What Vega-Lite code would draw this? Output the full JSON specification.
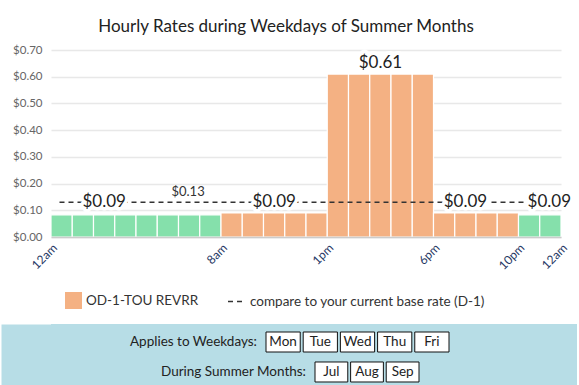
{
  "$schema": "https://vega.github.io/schema/vega-lite/v6.json",
  "padding": {"left": 1, "top": 18, "right": 0, "bottom": 0},
  "spacing": 1,
  "columns": 1,
  "align": "none",
  "bounds": "full",
  "background": "white",
  "resolve": {
    "scale": {"color": "independent", "strokeDash": "independent"},
    "legend": {"color": "independent", "strokeDash": "independent"}
  },
  "config": {
    "font": "Lato",
    "view": {"stroke": null},
    "legend": {
      "orient": "bottom",
      "direction": "horizontal",
      "labelFontSize": 13.5,
      "labelColor": "#333",
      "labelFont": "Lato",
      "labelLimit": 0,
      "offset": 6,
      "padding": 14,
      "layout": {"bottom": {"anchor": "start", "direction": "horizontal", "margin": 0}}
    }
  },
  "datasets": {
    "hours": [
      {"hour": 0, "hour_end": 1, "rate": 0.083, "plan": "Off-peak"},
      {"hour": 1, "hour_end": 2, "rate": 0.083, "plan": "Off-peak"},
      {"hour": 2, "hour_end": 3, "rate": 0.083, "plan": "Off-peak"},
      {"hour": 3, "hour_end": 4, "rate": 0.083, "plan": "Off-peak"},
      {"hour": 4, "hour_end": 5, "rate": 0.083, "plan": "Off-peak"},
      {"hour": 5, "hour_end": 6, "rate": 0.083, "plan": "Off-peak"},
      {"hour": 6, "hour_end": 7, "rate": 0.083, "plan": "Off-peak"},
      {"hour": 7, "hour_end": 8, "rate": 0.083, "plan": "Off-peak"},
      {"hour": 8, "hour_end": 9, "rate": 0.09, "plan": "OD-1-TOU REVRR"},
      {"hour": 9, "hour_end": 10, "rate": 0.09, "plan": "OD-1-TOU REVRR"},
      {"hour": 10, "hour_end": 11, "rate": 0.09, "plan": "OD-1-TOU REVRR"},
      {"hour": 11, "hour_end": 12, "rate": 0.09, "plan": "OD-1-TOU REVRR"},
      {"hour": 12, "hour_end": 13, "rate": 0.09, "plan": "OD-1-TOU REVRR"},
      {"hour": 13, "hour_end": 14, "rate": 0.61, "plan": "OD-1-TOU REVRR"},
      {"hour": 14, "hour_end": 15, "rate": 0.61, "plan": "OD-1-TOU REVRR"},
      {"hour": 15, "hour_end": 16, "rate": 0.61, "plan": "OD-1-TOU REVRR"},
      {"hour": 16, "hour_end": 17, "rate": 0.61, "plan": "OD-1-TOU REVRR"},
      {"hour": 17, "hour_end": 18, "rate": 0.61, "plan": "OD-1-TOU REVRR"},
      {"hour": 18, "hour_end": 19, "rate": 0.09, "plan": "OD-1-TOU REVRR"},
      {"hour": 19, "hour_end": 20, "rate": 0.09, "plan": "OD-1-TOU REVRR"},
      {"hour": 20, "hour_end": 21, "rate": 0.09, "plan": "OD-1-TOU REVRR"},
      {"hour": 21, "hour_end": 22, "rate": 0.09, "plan": "OD-1-TOU REVRR"},
      {"hour": 22, "hour_end": 23, "rate": 0.083, "plan": "Off-peak"},
      {"hour": 23, "hour_end": 24, "rate": 0.083, "plan": "Off-peak"}
    ],
    "base": [
      {"hour": 0.4, "hour_end": 23.6, "rate": 0.13, "series": "compare to your current base rate (D-1)"}
    ],
    "bigLabels": [
      {"hour": 2.5, "rate": 0.13, "label": "$0.09"},
      {"hour": 10.5, "rate": 0.13, "label": "$0.09"},
      {"hour": 19.5, "rate": 0.13, "label": "$0.09"},
      {"hour": 23.45, "rate": 0.13, "label": "$0.09"}
    ],
    "peakLabel": [
      {"hour": 15.5, "rate": 0.61, "label": "$0.61"}
    ],
    "baseLabel": [
      {"hour": 6.45, "rate": 0.13, "label": "$0.13"}
    ],
    "weekdays": [
      {"row": "Applies to Weekdays:", "item": "Mon"},
      {"row": "Applies to Weekdays:", "item": "Tue"},
      {"row": "Applies to Weekdays:", "item": "Wed"},
      {"row": "Applies to Weekdays:", "item": "Thu"},
      {"row": "Applies to Weekdays:", "item": "Fri"}
    ],
    "months": [
      {"row": "During Summer Months:", "item": "Jul"},
      {"row": "During Summer Months:", "item": "Aug"},
      {"row": "During Summer Months:", "item": "Sep"}
    ]
  },
  "concat": [
    {
      "width": 510,
      "height": 187,
      "title": {
        "text": "Hourly Rates during Weekdays of Summer Months",
        "fontSize": 17,
        "font": "Lato",
        "fontWeight": "normal",
        "color": "#222",
        "anchor": "middle",
        "frame": "bounds",
        "offset": 8
      },
      "encoding": {
        "x": {
          "field": "hour",
          "type": "quantitative",
          "scale": {"domain": [0, 24], "nice": false, "zero": false},
          "axis": {
            "values": [0, 8, 13, 18, 22, 24],
            "labelExpr": "datum.value == 0 || datum.value == 24 ? '12am' : datum.value == 8 ? '8am' : datum.value == 13 ? '1pm' : datum.value == 18 ? '6pm' : '10pm'",
            "labelAngle": -45,
            "labelFontSize": 12,
            "labelColor": "#1f3864",
            "labelPadding": 5,
            "labelOverlap": false,
            "ticks": false,
            "grid": false,
            "domain": true,
            "domainColor": "#cccccc",
            "domainWidth": 1.5,
            "title": null,
            "zindex": 1
          }
        },
        "y": {
          "field": "rate",
          "type": "quantitative",
          "scale": {"domain": [0, 0.7], "nice": false},
          "axis": {
            "values": [0, 0.1, 0.2, 0.3, 0.4, 0.5, 0.6, 0.7],
            "format": "$.2f",
            "labelFontSize": 11.5,
            "labelColor": "#666",
            "labelPadding": 9,
            "labelOverlap": false,
            "ticks": false,
            "domain": false,
            "grid": true,
            "gridColor": "#e8e8e8",
            "gridWidth": 1.5,
            "minExtent": 50,
            "title": null
          }
        }
      },
      "layer": [
        {
          "data": {"name": "hours"},
          "mark": {"type": "rect", "stroke": "white", "strokeWidth": 1.2},
          "encoding": {
            "x2": {"field": "hour_end"},
            "y2": {"datum": 0},
            "color": {
              "field": "plan",
              "type": "nominal",
              "scale": {"domain": ["OD-1-TOU REVRR", "Off-peak"], "range": ["#f4b183", "#85e0ab"]},
              "legend": {"values": ["OD-1-TOU REVRR"], "title": null, "symbolType": "square", "symbolSize": 289, "symbolStrokeWidth": 0}
            }
          }
        },
        {
          "data": {"name": "base"},
          "mark": {"type": "rule", "color": "#333", "strokeWidth": 1.5},
          "encoding": {
            "x2": {"field": "hour_end"},
            "strokeDash": {
              "field": "series",
              "type": "nominal",
              "scale": {"domain": ["compare to your current base rate (D-1)"], "range": [[5, 4]]},
              "legend": {"title": null, "symbolSize": 289, "symbolStrokeColor": "#333", "symbolStrokeWidth": 1.5}
            }
          }
        },
        {
          "data": {"name": "bigLabels"},
          "mark": {"type": "text", "fontSize": 17, "font": "Lato", "baseline": "middle", "stroke": "white", "strokeWidth": 7, "strokeJoin": "round", "fill": "white"},
          "encoding": {"text": {"field": "label"}}
        },
        {
          "data": {"name": "bigLabels"},
          "mark": {"type": "text", "fontSize": 17, "font": "Lato", "baseline": "middle", "color": "#222"},
          "encoding": {"text": {"field": "label"}}
        },
        {
          "data": {"name": "peakLabel"},
          "mark": {"type": "text", "fontSize": 17, "font": "Lato", "baseline": "alphabetic", "dy": -6, "stroke": "white", "strokeWidth": 8, "strokeJoin": "round", "fill": "white"},
          "encoding": {"text": {"field": "label"}}
        },
        {
          "data": {"name": "peakLabel"},
          "mark": {"type": "text", "fontSize": 17, "font": "Lato", "baseline": "alphabetic", "dy": -6, "color": "#222"},
          "encoding": {"text": {"field": "label"}}
        },
        {
          "data": {"name": "baseLabel"},
          "mark": {"type": "text", "fontSize": 13, "font": "Lato", "baseline": "middle", "dy": -10, "color": "#333"},
          "encoding": {"text": {"field": "label"}}
        }
      ]
    },
    {
      "width": 526,
      "height": 66,
      "view": {"fill": "#b7dde6", "stroke": null},
      "encoding": {
        "y": {
          "field": "row",
          "type": "nominal",
          "scale": {"domain": ["Applies to Weekdays:", "During Summer Months:"], "paddingInner": 0.333, "paddingOuter": 0.267},
          "axis": {
            "labels": false,
            "ticks": false,
            "title": null,
            "domain": true,
            "domainColor": "#b7dde6",
            "domainWidth": 100,
            "minExtent": 0
          }
        }
      },
      "layer": [
        {
          "data": {"name": "weekdays"},
          "encoding": {
            "x": {
              "field": "item",
              "type": "nominal",
              "sort": null,
              "scale": {"domain": ["Mon", "Tue", "Wed", "Thu", "Fri"], "range": [215, 398], "paddingInner": 0.08, "paddingOuter": 0},
              "axis": null
            }
          },
          "layer": [
            {"mark": {"type": "rect", "fill": "white", "stroke": "#111", "strokeWidth": 1}},
            {"mark": {"type": "text", "fontSize": 13.5, "font": "Lato", "color": "#222"}, "encoding": {"text": {"field": "item"}}},
            {
              "transform": [{"filter": "datum.item == 'Mon'"}],
              "mark": {"type": "text", "fontSize": 13.5, "font": "Lato", "color": "#222", "align": "right", "dx": -9},
              "encoding": {"x": {"field": "item", "type": "nominal", "bandPosition": 0}, "text": {"field": "row"}}
            }
          ]
        },
        {
          "data": {"name": "months"},
          "encoding": {
            "x": {
              "field": "item",
              "type": "nominal",
              "sort": null,
              "scale": {"domain": ["Jul", "Aug", "Sep"], "range": [264, 368], "paddingInner": 0.08, "paddingOuter": 0},
              "axis": null
            }
          },
          "layer": [
            {"mark": {"type": "rect", "fill": "white", "stroke": "#111", "strokeWidth": 1}},
            {"mark": {"type": "text", "fontSize": 13.5, "font": "Lato", "color": "#222"}, "encoding": {"text": {"field": "item"}}},
            {
              "transform": [{"filter": "datum.item == 'Jul'"}],
              "mark": {"type": "text", "fontSize": 13.5, "font": "Lato", "color": "#222", "align": "right", "dx": -9},
              "encoding": {"x": {"field": "item", "type": "nominal", "bandPosition": 0}, "text": {"field": "row"}}
            }
          ]
        }
      ],
      "resolve": {"scale": {"x": "independent"}}
    }
  ]
}
